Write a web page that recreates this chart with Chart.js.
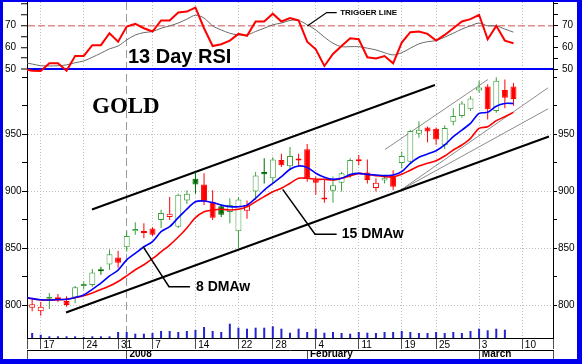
<!DOCTYPE html>
<html>
<head>
<meta charset="utf-8">
<title>Gold</title>
<script src="https://cdn.jsdelivr.net/npm/chart.js@4.4.1/dist/chart.umd.min.js"></script>
<style>
  html, body { margin: 0; padding: 0; background: #fff; }
  #frame {
    position: absolute; left: 0; top: 0;
    width: 582px; height: 364px; box-sizing: border-box;
    border-style: solid; border-color: #0000ee;
    border-width: 2px 5px 5px 3px;
    background: #fff;
  }
  canvas { display: block; }
</style>
</head>
<body>
<div id="frame"><canvas id="chart" width="574" height="357"></canvas></div>
<script>
// trading days; the first one only supplies the previous close
const dates = [
  '2007-12-13', '2007-12-14', '2007-12-17', '2007-12-18', '2007-12-19', '2007-12-20', '2007-12-21',
  '2007-12-24', '2007-12-26', '2007-12-27', '2007-12-28', '2007-12-31',
  '2008-01-02', '2008-01-03', '2008-01-04', '2008-01-07', '2008-01-08', '2008-01-09', '2008-01-10',
  '2008-01-11', '2008-01-14', '2008-01-15', '2008-01-16', '2008-01-17', '2008-01-18', '2008-01-22',
  '2008-01-23', '2008-01-24', '2008-01-25', '2008-01-28', '2008-01-29', '2008-01-30', '2008-01-31',
  '2008-02-01', '2008-02-04', '2008-02-05', '2008-02-06', '2008-02-07', '2008-02-08', '2008-02-11',
  '2008-02-12', '2008-02-13', '2008-02-14', '2008-02-15', '2008-02-19', '2008-02-20', '2008-02-21',
  '2008-02-22', '2008-02-25', '2008-02-26', '2008-02-27', '2008-02-28', '2008-02-29', '2008-03-03',
  '2008-03-04', '2008-03-05', '2008-03-06', '2008-03-07', '2008-03-10', '2008-03-11', '2008-03-12',
  '2008-03-13'
];

const open = [null,
  798, 795, 806, 805.5, 804, 807, 817, 818, 831, 836,
  842, 851, 865, 863.5, 867.5, 875, 877.5, 869, 892, 911,
  906, 891, 887, 882, 865, 883, 900, 917, 911.5, 927.5,
  922, 927, 937, 910.5, 893, 900.5, 907.5, 914, 926.5, 916.5,
  903, 909.5, 914, 925, 926, 950.5, 956, 955, 940.5, 961,
  966, 972, 988.5, 992, 970.5, 989, 992];
const high = [null,
  805, 803, 811, 810, 808, 817, 821, 832, 834, 849,
  848, 865, 873, 872, 868.5, 884, 895, 898, 901, 917,
  916, 901, 888, 894, 895, 892, 917, 929, 930, 933,
  939, 933, 941.5, 913, 911, 913, 917, 929, 932, 928,
  911.5, 914, 918.5, 935, 954, 961.5, 957, 956, 958, 973,
  979, 983.5, 997, 994, 1000, 998, 995];
const low = [null,
  795, 791, 797, 803, 799, 802, 814, 816.5, 827, 831,
  833, 847, 862, 859, 861, 868, 875, 868, 889, 898,
  888, 875, 877.5, 872, 850, 876, 892.5, 907, 907, 921.5,
  919, 922, 908.5, 897, 890, 890, 900, 912, 923, 907,
  900, 907, 901, 920, 924.5, 947, 943, 941, 937, 958,
  964.5, 970.5, 986.5, 963, 969, 973, 975];
const close = [803,
  801, 799, 807, 806, 800.5, 816, 818, 829, 830, 845,
  837.5, 861, 867, 864, 862, 881, 880.5, 897, 898, 906,
  891, 877, 879.5, 888, 893, 888, 914, 915, 928, 923,
  931, 927.5, 911, 907.5, 893.5, 905.5, 916, 927.5, 927, 910,
  907.5, 912, 904, 931, 953, 954, 952.5, 945.5, 955.5, 966,
  977, 981.5, 991, 972, 997, 982, 981];
const volume = [null,
  50, 33, 17, 17, 17, 17, 10, 17, 17, 17,
  60, 60, 43, 43, 50, 70, 70, 60, 70, 80,
  110, 70, 60, 143, 103, 93, 103, 103, 117, 93,
  53, 93, 60, 93, 53, 60, 50, 43, 60, 53,
  50, 60, 60, 70, 60, 50, 50, 60, 50, 60,
  50, 70, 93, 77, 93, 83, null];

const ma8 = [807.5,
  806, 805, 804.8, 805.2, 805.4, 807, 809.2, 814.2, 819.5, 825.9,
  831, 840, 845.7, 851.5, 856, 864.7, 869.1, 877, 884.5, 891,
  891.6, 890.2, 888, 886.6, 886.6, 888, 894, 901.2, 907.1, 912.9,
  919.4, 922.3, 921, 915.9, 912.4, 910.6, 911.5, 914.8, 915.8, 914.9,
  914.4, 913.8, 914.4, 917.3, 924.6, 929.9, 932.8, 935.7, 940.7, 948,
  953.8, 959.6, 968.4, 969.3, 974.7, 977.1, 977.1];
const ma15 = [807,
  806, 804.8, 804.8, 805, 805.4, 806.8, 808.6, 811, 814, 817,
  821, 826, 831.3, 835.7, 841, 847, 853, 860, 868, 877,
  882.2, 883.7, 884.3, 883.7, 884.3, 886.6, 891, 895.4, 899.7, 902.7,
  907.1, 911.5, 911.5, 910.6, 910.6, 910, 911.5, 913.6, 915.8, 915,
  913.8, 912.9, 912.9, 915.1, 918.6, 922.2, 924.6, 926.9, 931, 936.3,
  940.7, 946.5, 955.3, 956.7, 962, 965.5, 969.3];

const rsi = [50,
  49.2, 49.1, 52.6, 52.6, 49.2, 56, 56, 61, 61, 66.5,
  62.6, 69.6, 70.8, 68.8, 67.3, 72.4, 72.4, 76.1, 76.5, 78.3,
  68.8, 60.6, 61.4, 63.1, 66.2, 65.3, 71.9, 71.9, 75.5, 71.9,
  73.5, 72.4, 62.6, 59.1, 51.4, 56.9, 60.6, 64.2, 63.7, 55.4,
  54.9, 56, 52.6, 62.2, 67, 67.3, 66.2, 63.1, 65.7, 68.8,
  71.9, 73, 75, 63.7, 69.9, 63.1, 61.9];
const trigger = [53,
  52.3, 51.5, 51.4, 51.5, 51.9, 52.9, 53.7, 55.4, 57.3, 59.3,
  60.6, 63.4, 65.7, 66.8, 67.3, 68.8, 69.9, 71.2, 73, 74.8,
  73.5, 69.9, 68, 66.5, 65.7, 65.7, 67.3, 68.8, 70.4, 71.2,
  72.4, 72.4, 70.4, 68, 64.7, 61.9, 60.3, 60.3, 60.3, 59.6,
  58.8, 57.5, 56.5, 57.5, 59.6, 61.6, 62.6, 63.1, 64.7, 66.5,
  68.4, 69.9, 71.2, 69.9, 69.9, 68.4, 67];

// hand drawn lines: [day index, value]
const channelUpper = [[7.96, 884.1], [47.87, 993.3]];
const channelLower = [[4.94, 793.9], [61.13, 948.1]];
const fastUpper = [[42.05, 936.7], [54.04, 998.1]];
const fastLowerA = [[43.91, 901.3], [61.02, 990.8]];
const fastLowerB = [[43.91, 901.3], [61.02, 972.4]];
const ptr8 = [[13.93, 851.3], [16.92, 816.5], [19.36, 816.5]];
const ptr15 = [[30.15, 901.8], [33.91, 862.4], [36.43, 862.4]];
const ptrTrigger = [[33.01, 69.8], [35.27, 76], [36.43, 76]];

const rsiTicks = [50, 55, 60, 65, 70, 75, 80];
const priceTicks = [800, 825, 850, 875, 900, 925, 950, 975, 1000];
const monthNames = ['January', 'February', 'March', 'April', 'May', 'June', 'July',
  'August', 'September', 'October', 'November', 'December'];

const FONT = '"Liberation Sans", Arial, sans-serif';
const UP = '#3d9f3d', UP_FILL = '#006a00', DOWN = '#ff0000';
const NONE = 'rgba(0,0,0,0)';

const dayOf = d => new Date(d + 'T00:00:00Z');
const weekK = [], monthK = [];
let yearK = null;
for (let k = 1; k < dates.length; k++) {
  const a = dayOf(dates[k - 1]), b = dayOf(dates[k]);
  if (b.getUTCDay() < a.getUTCDay()) weekK.push(k);
  if (b.getUTCMonth() !== a.getUTCMonth()) monthK.push(k);
  if (b.getUTCFullYear() !== a.getUTCFullYear()) yearK = k;
}
const xMin = 0.4, xMax = dates.length - 0.4;

function colorOf(k) {
  if (close[k] < close[k - 1]) return DOWN;
  return close[k] < open[k] ? UP_FILL : UP;
}

const bodies = [], wicks = [], volBars = [];
for (let k = 0; k < open.length; k++) {
  if (open[k] == null) continue;
  bodies.push({x: k, y: [open[k], close[k]]});
  wicks.push({x: k, y: [low[k], high[k]]});
}
volume.forEach((v, k) => { if (v != null) volBars.push({x: k, y: v}); });
const series = arr => arr.map((v, k) => ({x: k, y: v}));
const pts = arr => arr.map(p => ({x: p[0], y: p[1]}));

function line(data, yId, color, width, order) {
  return {
    type: 'line', data: pts(data), yAxisID: yId, borderColor: color, borderWidth: width,
    pointRadius: 0, fill: false, tension: 0, order: order
  };
}

// no room kept for labels at the ends of an axis
const noPad = s => { s.paddingTop = 0; s.paddingBottom = 0; s.paddingLeft = 0; s.paddingRight = 0; };

const labelsPlugin = {
  id: 'labels',
  afterDatasetsDraw(chart) {
    const {ctx, scales} = chart;
    ctx.save();
    ctx.fillStyle = '#000';
    ctx.textBaseline = 'alphabetic';
    ctx.font = 'bold 20px ' + FONT;
    ctx.fillText('13 Day RSI', 125, 61);
    ctx.font = 'bold 23px "Liberation Serif", "Times New Roman", serif';
    ctx.fillText('GOLD', 89, 111);
    ctx.textBaseline = 'middle';
    const tag = (p, yId, text, font, dx) => {
      const end = p[p.length - 1];
      ctx.font = font;
      ctx.fillText(text, scales.x.getPixelForValue(end[0]) + dx, scales[yId].getPixelForValue(end[1]));
    };
    tag(ptr8, 'price', '8 DMAw', 'bold 14px ' + FONT, 6);
    tag(ptr15, 'price', '15 DMAw', 'bold 14px ' + FONT, 5);
    tag(ptrTrigger, 'rsi', 'TRIGGER LINE', 'bold 8px ' + FONT, 3.5);
    ctx.restore();
  }
};

new Chart(document.getElementById('chart'), {
  type: 'bar',
  data: {
    datasets: [
      line(ptr8, 'price', '#000', 1.5, 0),
      line(ptr15, 'price', '#000', 1.5, 0),
      line(ptrTrigger, 'rsi', '#000', 1.2, 0),
      {
        type: 'line', data: series(rsi), yAxisID: 'rsi', borderColor: '#ff0000', borderWidth: 2,
        pointRadius: 0, tension: 0, order: 1, clip: {left: 0, top: 0, right: 0, bottom: 4}
      },
      {
        type: 'line', data: series(trigger), yAxisID: 'rsi', borderColor: '#6a6a6a', borderWidth: 1,
        pointRadius: 0, tension: 0.3, order: 2, clip: {left: 0, top: 0, right: 0, bottom: 4}
      },
      {
        type: 'line', data: series(ma8), yAxisID: 'price', borderColor: '#0000ff', borderWidth: 1.6,
        pointRadius: 0, tension: 0.3, order: 1
      },
      {
        type: 'line', data: series(ma15), yAxisID: 'price', borderColor: '#ff0000', borderWidth: 1.6,
        pointRadius: 0, tension: 0.3, order: 1
      },
      {
        type: 'bar', data: bodies, yAxisID: 'price', grouped: false, maxBarThickness: 6,
        minBarLength: 2, borderWidth: 1, borderSkipped: false, inflateAmount: 0, order: 2,
        borderColor: c => colorOf(c.raw.x),
        backgroundColor: c => close[c.raw.x] < open[c.raw.x] ? colorOf(c.raw.x) : '#ffffff'
      },
      {
        type: 'bar', data: wicks, yAxisID: 'price', grouped: false, maxBarThickness: 1,
        borderWidth: 0, inflateAmount: 0, order: 3,
        backgroundColor: c => colorOf(c.raw.x)
      },
      line(channelUpper, 'price', '#000', 2, 4),
      line(channelLower, 'price', '#000', 2, 4),
      line(fastUpper, 'price', '#8c8c8c', 1, 4),
      line(fastLowerA, 'price', '#8c8c8c', 1, 4),
      line(fastLowerB, 'price', '#8c8c8c', 1, 4),
      {
        type: 'bar', data: volBars, yAxisID: 'vol', grouped: false, maxBarThickness: 2,
        borderWidth: 0, inflateAmount: 0, backgroundColor: '#2323d0', order: 5
      }
    ]
  },
  options: {
    responsive: false,
    animation: false,
    devicePixelRatio: 1,
    layout: {padding: {left: 2, top: 0, right: 0, bottom: 0}},
    plugins: {legend: {display: false}, tooltip: {enabled: false}},
    scales: {
      x: {
        type: 'linear', position: 'bottom', min: xMin, max: xMax, weight: 0, offset: false,
        afterBuildTicks: s => {
          s.ticks = [xMin, ...weekK, yearK, xMax].sort((a, b) => a - b).map(v => ({value: v}));
        },
        afterFit: s => { noPad(s); s.height = 12; },
        ticks: {
          autoSkip: false, maxRotation: 0, minRotation: 0, align: 'start', padding: -10,
          color: '#000', font: {family: FONT, size: 10},
          callback: v => weekK.includes(v) ? ' ' + dayOf(dates[v]).getUTCDate() : ''
        },
        grid: {
          offset: false,
          color: c => {
            const v = c.tick && c.tick.value;
            if (v === yearK) return '#9a9a9a';
            if (weekK.includes(v) && Math.abs(v - yearK) > 2) return '#bcbcbc';
            return NONE;
          },
          lineWidth: 1, tickLength: 11, tickColor: '#505050', tickWidth: 1
        },
        border: {color: '#000', dash: c => c.tick && c.tick.value === yearK ? [8, 4] : [1, 2]}
      },
      xm: {
        type: 'linear', position: 'bottom', min: xMin, max: xMax, weight: 1, offset: false,
        afterBuildTicks: s => { s.ticks = [xMin, ...monthK, xMax].map(v => ({value: v})); },
        afterFit: s => { noPad(s); s.height = 9; },
        ticks: {
          autoSkip: false, maxRotation: 0, minRotation: 0, align: 'start', padding: -10.5,
          color: '#000', font: {family: FONT, size: 10, weight: 'bold'},
          callback: v => {
            if (!monthK.includes(v)) return '';
            const d = dayOf(dates[v]);
            return ' ' + (v === yearK ? d.getUTCFullYear() : monthNames[d.getUTCMonth()]);
          }
        },
        grid: {offset: false, drawOnChartArea: false, tickLength: 9, tickColor: '#505050', tickWidth: 1},
        border: {color: '#000'}
      },
      rsi: {
        type: 'linear', position: 'left', stack: 'L', stackWeight: 67, weight: 2,
        min: 50, max: 80.9,
        afterBuildTicks: s => { s.ticks = rsiTicks.map(v => ({value: v})); },
        afterFit: s => { noPad(s); s.width = 22; },
        ticks: {
          autoSkip: false, crossAlign: 'far', color: '#000', font: {family: FONT, size: 10},
          callback: v => v % 10 === 0 && v < 80 ? String(v) : ''
        },
        grid: {
          color: c => !c.tick ? NONE : c.tick.value === 70 ? '#e28c8c' : c.tick.value === 50 ? '#0000ff' : NONE,
          lineWidth: c => c.tick && c.tick.value === 50 ? 2 : 1.5,
          tickLength: 6, tickColor: '#000', tickWidth: 1
        },
        border: {color: '#000', dash: c => c.tick && c.tick.value === 70 ? [7, 3] : []}
      },
      price: {
        type: 'linear', position: 'left', stack: 'L', stackWeight: 269, weight: 1,
        min: 771.5, max: 1007.3,
        afterBuildTicks: s => { s.ticks = priceTicks.map(v => ({value: v})); },
        afterFit: s => { noPad(s); s.width = 22; },
        ticks: {
          autoSkip: false, crossAlign: 'far', color: '#000', font: {family: FONT, size: 10},
          callback: v => v % 50 === 0 && v < 1000 ? String(v) : ''
        },
        grid: {
          color: c => c.tick && c.tick.value % 50 === 0 && c.tick.value < 1000 ? '#bcbcbc' : NONE,
          lineWidth: 1, tickLength: 5, tickColor: '#000', tickWidth: 1
        },
        border: {color: '#000', dash: c => c.tick ? [1, 2] : []}
      },
      vol: {type: 'linear', position: 'left', display: false, min: 0, max: 3360, weight: 0},
      rsiR: {
        type: 'linear', position: 'right', stack: 'R', stackWeight: 67, weight: 1,
        min: 50, max: 80.9,
        afterBuildTicks: s => { s.ticks = rsiTicks.map(v => ({value: v})); },
        afterFit: s => { noPad(s); s.width = 24; },
        ticks: {
          autoSkip: false, padding: 4, color: '#000', font: {family: FONT, size: 10},
          callback: v => v % 10 === 0 && v < 80 ? String(v) : ''
        },
        grid: {drawOnChartArea: false, tickLength: 5, tickColor: '#000', tickWidth: 1},
        border: {color: '#000'}
      },
      priceR: {
        type: 'linear', position: 'right', stack: 'R', stackWeight: 269, weight: 2,
        min: 771.5, max: 1007.3,
        afterBuildTicks: s => { s.ticks = priceTicks.map(v => ({value: v})); },
        afterFit: s => { noPad(s); s.width = 24; },
        ticks: {
          autoSkip: false, padding: 1, color: '#000', font: {family: FONT, size: 10},
          callback: v => v % 50 === 0 && v < 1000 ? String(v) : ''
        },
        grid: {drawOnChartArea: false, tickLength: 4, tickColor: '#000', tickWidth: 1},
        border: {color: '#000'}
      }
    }
  },
  plugins: [labelsPlugin]
});
</script>
</body>
</html>
